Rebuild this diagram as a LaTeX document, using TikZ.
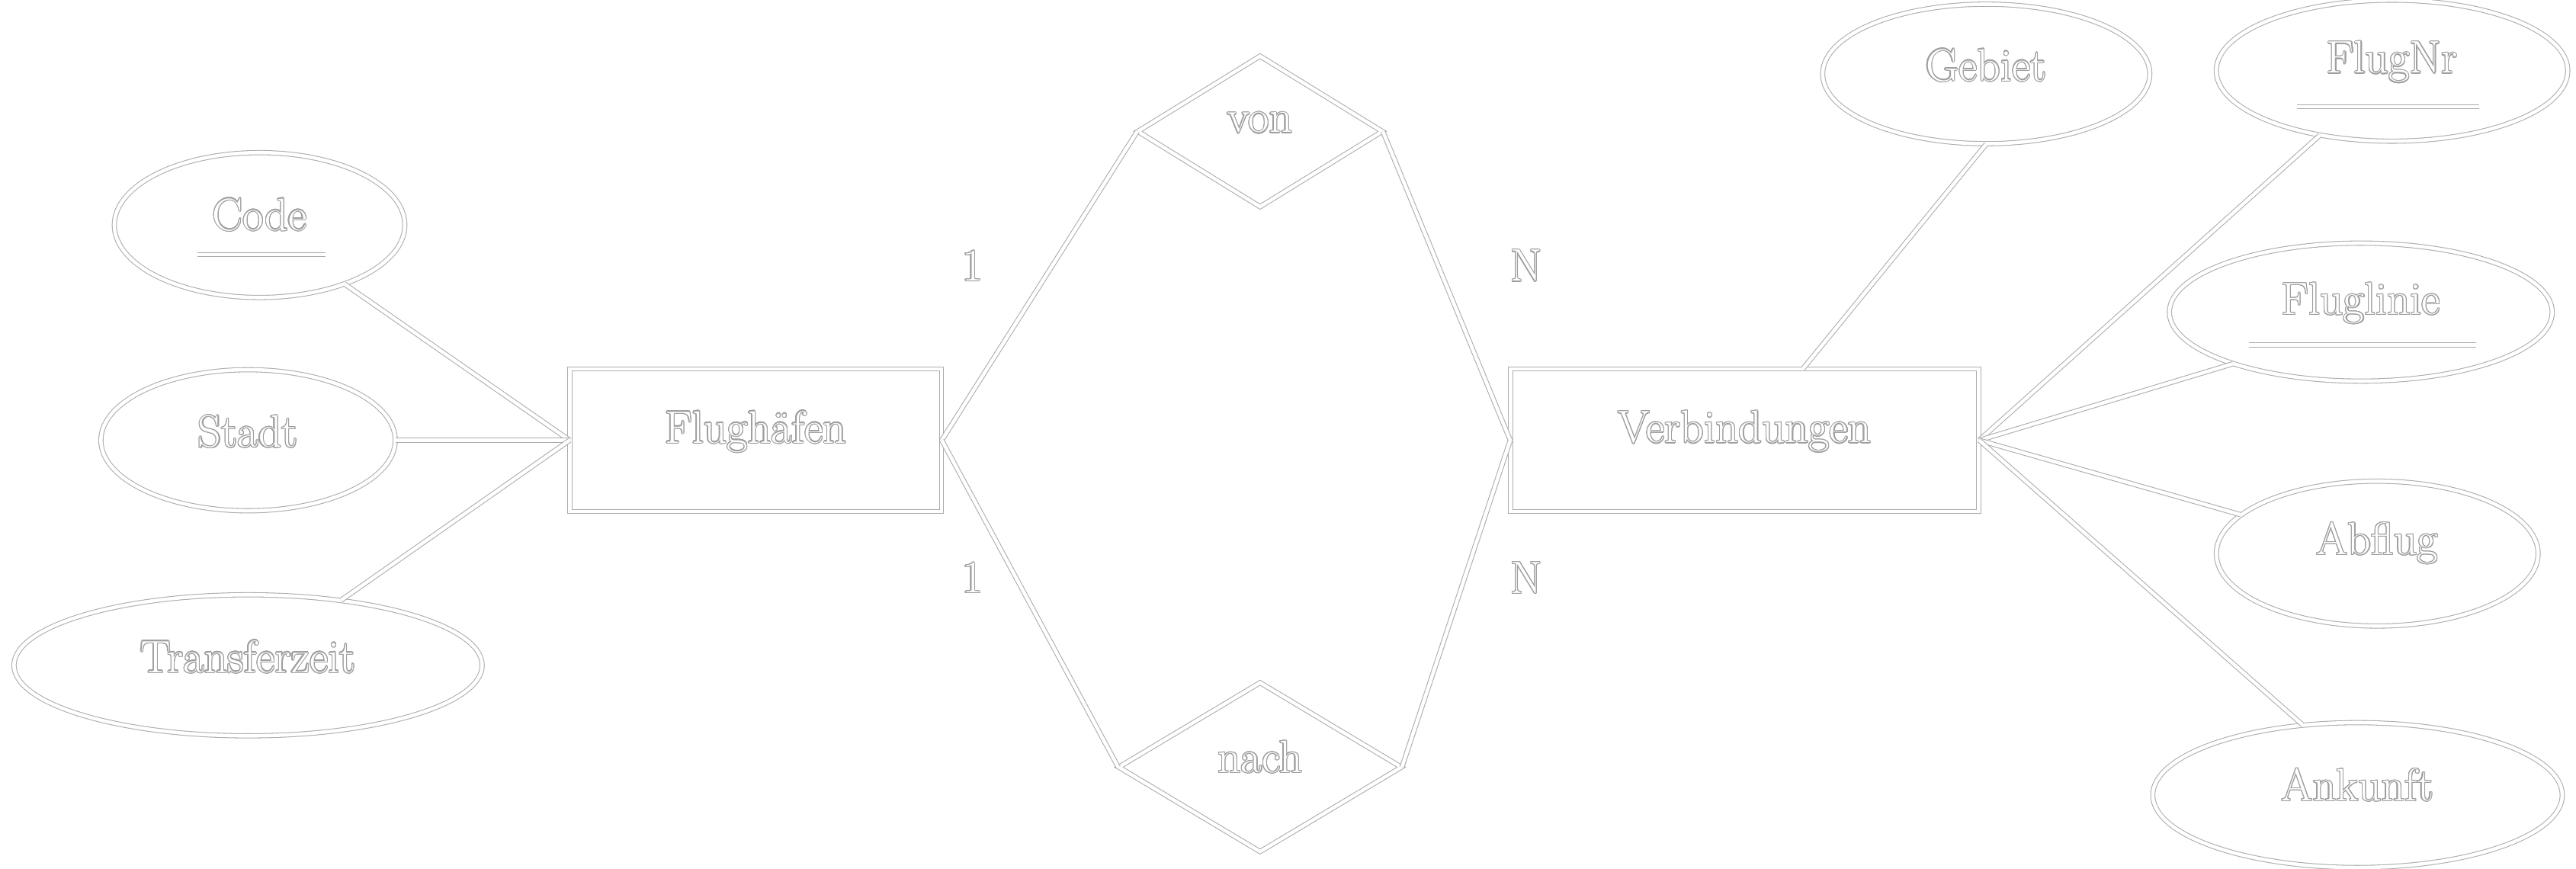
\documentclass[tikz,border=0pt]{standalone}
\usepackage{xcolor}
\usepackage[copies]{contour}
\usetikzlibrary{shapes.geometric}
\contourlength{0.35pt}
\newcommand{\oltext}[1]{{\color{white}\contour{gray!75}{#1}}}
\tikzset{
  dbl/.style={draw=gray!65, line width=0.3pt, double=white, double distance=1.3pt},
  attr/.style={dbl, ellipse, inner sep=0pt},
  ent/.style={dbl, rectangle, inner sep=0pt, minimum width=4.87cm, minimum height=1.87cm},
  rel/.style={dbl, diamond, inner sep=0pt},
  lbl/.style={inner sep=0pt, font=\fontsize{17}{20}\selectfont},
}
\begin{document}
\begin{tikzpicture}[x=0.02155cm, y=-0.02155cm]
\useasboundingbox (0,0) rectangle (1568,529);
% entities
\node[ent] (flug) at (460,268) {};
\node[ent, minimum width=6.14cm] (verb) at (1062,268) {};
% relationships
\node[rel, minimum width=3.21cm, minimum height=1.98cm] (von) at (767,80) {};
\node[rel, minimum width=3.71cm, minimum height=2.22cm] (nach) at (767,467) {};
% attributes
\node[attr, minimum width=3.81cm, minimum height=1.90cm] (code) at (158,137) {};
\node[attr, minimum width=3.86cm, minimum height=1.85cm] (stadt) at (151,268) {};
\node[attr, minimum width=6.14cm, minimum height=1.85cm] (transfer) at (151,405) {};
\node[attr, minimum width=4.29cm, minimum height=1.83cm] (gebiet) at (1209,45) {};
\node[attr, minimum width=4.61cm, minimum height=1.85cm] (flugnr) at (1456,43) {};
\node[attr, minimum width=5.02cm, minimum height=1.81cm] (linie) at (1437,190) {};
\node[attr, minimum width=4.22cm, minimum height=1.90cm] (abflug) at (1447,337) {};
\node[attr, minimum width=5.37cm, minimum height=1.90cm] (ankunft) at (1435,484) {};
% texts
\node[lbl] (tflug) at (460,263) {\oltext{Flughäfen}};
\node[lbl] (tverb) at (1062,263) {\oltext{Verbindungen}};
\node[lbl] (tvon) at (767,75) {\oltext{von}};
\node[lbl] (tnach) at (767,461) {\oltext{nach}};
\node[lbl] (tcode) at (158,131) {\oltext{Code}};
\node[lbl] (tstadt) at (151,263) {\oltext{Stadt}};
\node[lbl] (ttransfer) at (151,400) {\oltext{Transferzeit}};
\node[lbl] (tgebiet) at (1209,40) {\oltext{Gebiet}};
\node[lbl] (tflugnr) at (1456,38) {\oltext{FlugNr}};
\node[lbl] (tlinie) at (1437,185) {\oltext{Fluglinie}};
\node[lbl] (tabflug) at (1447,331) {\oltext{Abflug}};
\node[lbl] (tankunft) at (1435,478) {\oltext{Ankunft}};
\node[lbl] (c1) at (592,162) {\oltext{1}};
\node[lbl] (c2) at (929,162) {\oltext{N}};
\node[lbl] (c3) at (592,352) {\oltext{1}};
\node[lbl] (c4) at (929,352) {\oltext{N}};
% key underlines
\coordinate (u1a) at (120,155); \coordinate (u1b) at (198,155);
\coordinate (u2a) at (1398,65); \coordinate (u2b) at (1509,65);
\coordinate (u3a) at (1369,210); \coordinate (u3b) at (1507,210);
\draw[dbl] (u1a) -- (u1b);
\draw[dbl] (u2a) -- (u2b);
\draw[dbl] (u3a) -- (u3b);
% connectors
\draw[dbl] (code) -- (flug.west);
\draw[dbl] (stadt) -- (flug.west);
\draw[dbl] (transfer) -- (flug.west);
\draw[dbl] (flug.east) -- (von.west);
\draw[dbl] (flug.east) -- (nach.west);
\draw[dbl] (von.east) -- (verb.west);
\draw[dbl] (nach.east) -- (verb.west);
\draw[dbl] (gebiet.south) -- (verb);
\draw[dbl] (flugnr) -- (verb.east);
\draw[dbl] (linie.202) -- (verb.east);
\draw[dbl] (abflug) -- (verb.east);
\draw[dbl] (ankunft.128) -- (verb.east);
\end{tikzpicture}
\end{document}
